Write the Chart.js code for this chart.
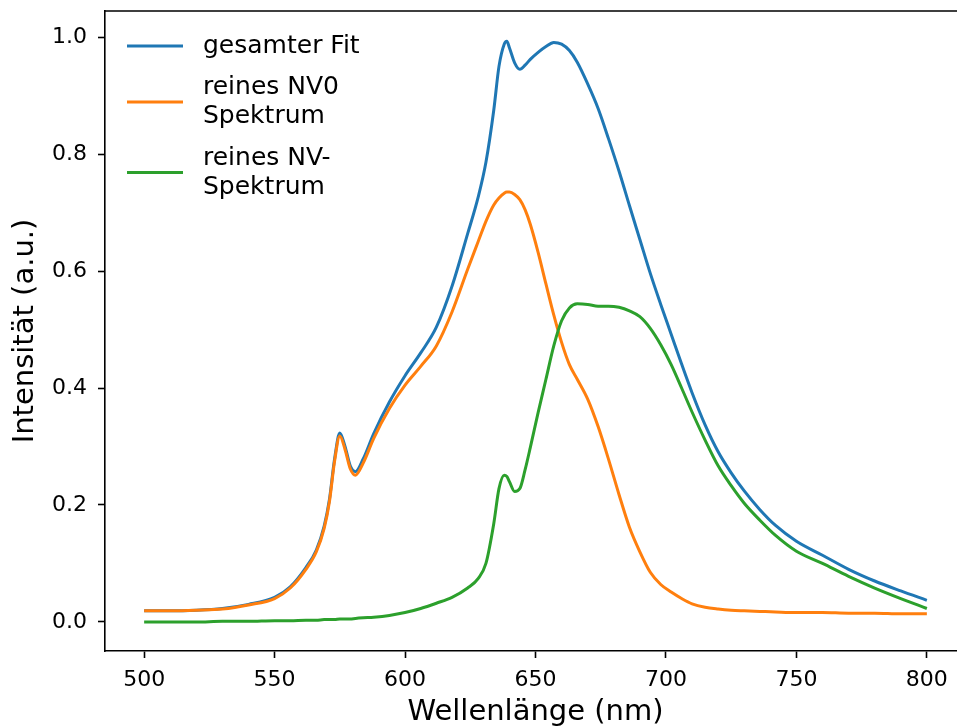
<!DOCTYPE html>
<html>
<head>
<meta charset="utf-8">
<script src="https://cdn.jsdelivr.net/npm/chart.js@4.4.0/dist/chart.umd.min.js"></script>
<style>
  html, body { margin: 0; padding: 0; overflow: hidden; background: #fff; }
  #wrap { width: 975px; height: 728px; }
</style>
</head>
<body>
<div id="wrap"><canvas id="chart" width="975" height="728"></canvas></div>
<script>
// ==== Data ====
const wavelengths = [500, 510, 520, 530, 540, 550, 556, 562, 566, 569, 571, 573, 575, 577, 579, 581, 584, 588, 594,
  600, 606, 612, 618, 624, 628, 631, 634, 636, 638, 639, 640, 642, 644, 646, 648, 651, 654, 657, 660, 663, 666,
  670, 674, 678, 682, 686, 690, 694, 698, 702, 706, 710, 715, 720, 725, 730, 736, 742, 750, 760, 770, 780, 790, 800];

const fitTotal = [0.019, 0.019, 0.020, 0.023, 0.030, 0.042, 0.060, 0.093, 0.123, 0.164, 0.209, 0.279, 0.323, 0.300, 0.267, 0.257, 0.279, 0.322, 0.376,
  0.421, 0.460, 0.504, 0.574, 0.664, 0.726, 0.786, 0.875, 0.950, 0.988, 0.993, 0.982, 0.956, 0.945, 0.952, 0.962, 0.974, 0.984, 0.991, 0.988, 0.977, 0.957,
  0.920, 0.878, 0.826, 0.771, 0.712, 0.654, 0.596, 0.543, 0.492, 0.441, 0.392, 0.337, 0.291, 0.255, 0.224, 0.192, 0.165, 0.138, 0.114, 0.090, 0.070, 0.053, 0.037];

const nv0Pure = [0.019, 0.019, 0.020, 0.022, 0.029, 0.040, 0.058, 0.090, 0.120, 0.160, 0.205, 0.275, 0.318, 0.295, 0.262, 0.251, 0.272, 0.314, 0.365,
  0.405, 0.437, 0.472, 0.530, 0.603, 0.650, 0.685, 0.713, 0.725, 0.733, 0.735, 0.735, 0.731, 0.722, 0.705, 0.680, 0.632, 0.578, 0.525, 0.478, 0.440, 0.415,
  0.381, 0.334, 0.278, 0.218, 0.162, 0.120, 0.085, 0.064, 0.051, 0.040, 0.031, 0.025, 0.022, 0.020, 0.019, 0.018, 0.017, 0.016, 0.016, 0.015, 0.015, 0.014, 0.014];

const nvMinusPure = [0.000, 0.000, 0.000, 0.001, 0.001, 0.002, 0.002, 0.003, 0.003, 0.004, 0.004, 0.004, 0.005, 0.005, 0.005, 0.006, 0.007, 0.008, 0.011,
  0.016, 0.023, 0.032, 0.042, 0.058, 0.074, 0.100, 0.168, 0.228, 0.251, 0.249, 0.240, 0.223, 0.228, 0.260, 0.298, 0.358, 0.415, 0.472, 0.515, 0.537, 0.544,
  0.543, 0.540, 0.540, 0.538, 0.532, 0.522, 0.502, 0.474, 0.440, 0.400, 0.359, 0.311, 0.267, 0.233, 0.203, 0.174, 0.148, 0.121, 0.100, 0.078, 0.058, 0.040, 0.023];

const legendLabels = [['gesamter Fit'], ['reines NV0', 'Spektrum'], ['reines NV-', 'Spektrum']];
const lineColors = ['#1f77b4', '#ff7f0e', '#2ca02c'];
const xTickValues = [500, 550, 600, 650, 700, 750, 800];
const yTickValues = [0.0, 0.2, 0.4, 0.6, 0.8, 1.0];

const FONT = '"DejaVu Sans", sans-serif';

function toPoints(ys) {
  return wavelengths.map((x, i) => ({ x, y: ys[i] }));
}

// top/right spine + legend inside the plot (matplotlib style, no frame)
const frameAndLegend = {
  id: 'frameAndLegend',
  afterDatasetsDraw(chart) {
    const { ctx, chartArea: a } = chart;
    ctx.save();
    ctx.strokeStyle = '#000';
    ctx.lineWidth = 1.6;
    ctx.beginPath();
    ctx.moveTo(a.left, a.top);
    ctx.lineTo(a.right, a.top);
    ctx.lineTo(a.right, a.bottom);
    ctx.stroke();

    const lineH = 29, gap = 12.5;
    let y = a.top + 20.5;
    ctx.font = '25px ' + FONT;
    ctx.textBaseline = 'middle';
    chart.data.datasets.forEach(ds => {
      const lines = ds.legendLines;
      const h = lines.length * lineH;
      const cy = y + h / 2;
      ctx.strokeStyle = ds.borderColor;
      ctx.lineWidth = 3;
      ctx.beginPath();
      ctx.moveTo(a.left + 22, cy);
      ctx.lineTo(a.left + 78, cy);
      ctx.stroke();
      ctx.fillStyle = '#000';
      lines.forEach((t, i) => ctx.fillText(t, a.left + 98, y + lineH * (i + 0.5)));
      y += h + gap;
    });
    ctx.restore();
  }
};

const series = [fitTotal, nv0Pure, nvMinusPure];

new Chart(document.getElementById('chart'), {
  type: 'line',
  data: {
    datasets: series.map((ys, i) => ({
      label: legendLabels[i].join(' '),
      legendLines: legendLabels[i],
      data: toPoints(ys),
      borderColor: lineColors[i],
      backgroundColor: lineColors[i],
      borderWidth: 3,
      pointRadius: 0,
      fill: false,
      cubicInterpolationMode: 'monotone',
      order: 3 - i
    }))
  },
  options: {
    responsive: false,
    animation: false,
    layout: { padding: { top: 11, right: 9, left: 0, bottom: 0 } },
    plugins: { legend: { display: false }, tooltip: { enabled: false } },
    scales: {
      x: {
        type: 'linear',
        min: 485,
        max: 815,
        afterFit: s => { s.height = 77; s.paddingLeft = 0; s.paddingRight = 0; },
        afterBuildTicks: s => { s.ticks = xTickValues.map(v => ({ value: v })); },
        grid: { drawOnChartArea: false, tickLength: 7, tickWidth: 1.6, tickColor: '#000' },
        border: { display: true, color: '#000', width: 1.6 },
        ticks: { color: '#000', padding: 9, maxRotation: 0, font: { family: FONT, size: 22 } },
        title: { display: true, text: 'Wellenlänge (nm)', color: '#000', padding: { top: 0, bottom: -2 }, font: { family: FONT, size: 29 } }
      },
      y: {
        type: 'linear',
        min: -0.0497,
        max: 1.0447,
        afterFit: s => { s.width = 105; s.paddingTop = 0; s.paddingBottom = 0; },
        afterBuildTicks: s => { s.ticks = yTickValues.map(v => ({ value: v })); },
        grid: { drawOnChartArea: false, tickLength: 7, tickWidth: 1.6, tickColor: '#000' },
        border: { display: true, color: '#000', width: 1.6 },
        ticks: { color: '#000', padding: 11, font: { family: FONT, size: 22 }, callback: v => v.toFixed(1) },
        title: { display: true, text: 'Intensität (a.u.)', color: '#000', padding: { top: 8, bottom: 0 }, font: { family: FONT, size: 29 } }
      }
    }
  },
  plugins: [frameAndLegend]
});
</script>
</body>
</html>
